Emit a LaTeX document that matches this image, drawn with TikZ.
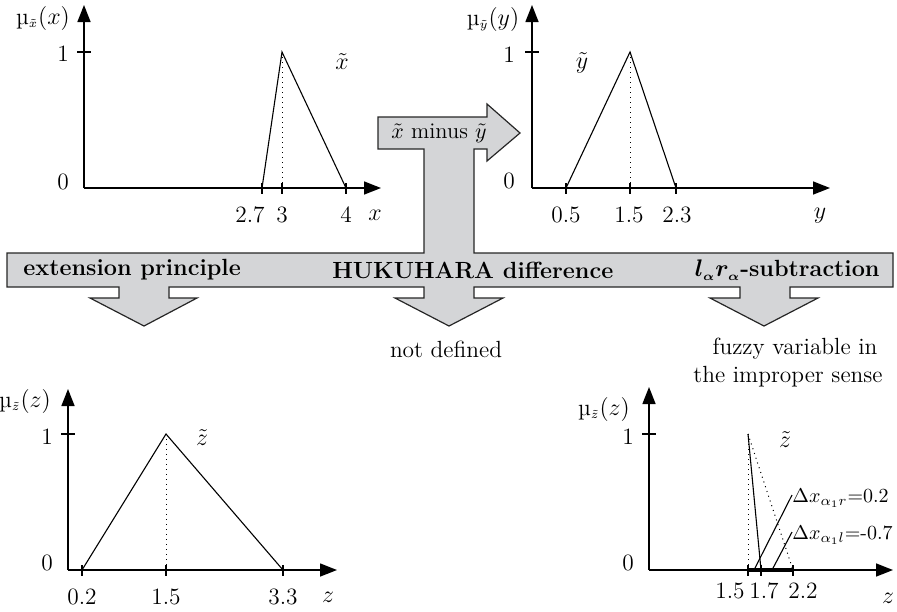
\documentclass[tikz,border=0pt]{standalone}
\usepackage{fontspec}
\usepackage{amsmath,bm}
\usetikzlibrary{arrows.meta}
\definecolor{bandgray}{RGB}{212,213,215}
\tikzset{
  axis/.style={line width=0.75pt,-{Triangle[length=8.5pt,width=6.5pt]}},
  tickmark/.style={line width=0.6pt},
  curve/.style={line width=0.55pt},
  dotline/.style={dotted,line width=0.5pt},
  lbl/.style={font=\fontsize{11.7}{14}\selectfont,inner sep=0pt},
  smalllbl/.style={font=\fontsize{10}{12}\selectfont,inner sep=0pt},
  band/.style={fill=bandgray,draw=black!85,line width=0.6pt,line join=miter}
}
\newcommand{\mulab}[2]{µ$_{\scriptscriptstyle\tilde{#1}}(#2)$}
\begin{document}
\begin{tikzpicture}[x=0.5pt,y=-0.5pt]
\useasboundingbox (0,0) rectangle (897,611);

% ---------- big grey arrow shape ----------
\draw[band] (378,117) -- (487,117) -- (487,104) -- (520,133) -- (487,161) -- (487,149)
  -- (474,149) -- (474,253) -- (893,253) -- (893,287)
  -- (790,287) -- (790,298) -- (818,298) -- (764,326) -- (710,298) -- (740,298) -- (740,287)
  -- (474,287) -- (474,298) -- (503,298) -- (449,326) -- (395,298) -- (424,298) -- (424,287)
  -- (169,287) -- (169,298) -- (197,298) -- (144,326) -- (90,298) -- (119,298) -- (119,287)
  -- (7,287) -- (7,253) -- (424,253) -- (424,149) -- (378,149) -- cycle;
\node[lbl,font=\fontsize{11.2}{14}\selectfont] (minus) at (439,133) {$\tilde{x}$ minus $\tilde{y}$};
\node[lbl,anchor=west] (ext) at (23,270) {\bfseries extension principle};
\node[lbl,anchor=west] (huk) at (332,270) {\bfseries HUKUHARA difference};
\node[lbl,anchor=east] (lr) at (880,270) {{\boldmath$l_{\scriptscriptstyle\alpha}r_{\scriptscriptstyle\alpha}$}\bfseries-subtraction};
\node[lbl] (nd) at (446,349) {not defined};
\node[lbl] (fv1) at (795,349) {fuzzy variable in};
\node[lbl] (fv2) at (788,377) {the improper sense};

% ---------- plot x (top left) ----------
\coordinate (ax0) at (84,188);
\coordinate (axt) at (84,5);
\coordinate (axr) at (381,188);
\draw[axis] (ax0) -- (axt);
\draw[axis] (ax0) -- (axr);
\coordinate (ax1a) at (77,52); \coordinate (ax1b) at (91,52);
\draw[tickmark] (ax1a) -- (ax1b);
\foreach \xx in {262,282,346} \draw[tickmark] (\xx,183) -- (\xx,194);
\coordinate (xa) at (262,188); \coordinate (xb) at (282,52); \coordinate (xc) at (346,188); \coordinate (xd) at (282,188);
\draw[curve] (xa) -- (xb) -- (xc);
\draw[dotline] (xb) -- (xd);
\node[lbl] (xmu) at (43,18) {\mulab{x}{x}};
\node[lbl] (x1) at (63,54) {1};
\node[lbl] (x0) at (63,182) {0};
\node[lbl] (xt1) at (250,215) {2.7};
\node[lbl] (xt2) at (282,215) {3};
\node[lbl] (xt3) at (346,215) {4};
\node[lbl] (xv) at (375,215) {$x$};
\node[lbl] (xtil) at (342,62) {$\tilde{x}$};

% ---------- plot y (top right) ----------
\coordinate (ay0) at (532,188);
\coordinate (ayt) at (532,5);
\coordinate (ayr) at (830,188);
\draw[axis] (ay0) -- (ayt);
\draw[axis] (ay0) -- (ayr);
\coordinate (ay1a) at (525,52); \coordinate (ay1b) at (539,52);
\draw[tickmark] (ay1a) -- (ay1b);
\foreach \xx in {566,630,676} \draw[tickmark] (\xx,183) -- (\xx,194);
\coordinate (ya) at (566,188); \coordinate (yb) at (630,52); \coordinate (yc) at (676,188); \coordinate (yd) at (630,188);
\draw[curve] (ya) -- (yb) -- (yc);
\draw[dotline] (yb) -- (yd);
\node[lbl] (ymu) at (493,19) {\mulab{y}{y}};
\node[lbl] (y1) at (509,55) {1};
\node[lbl] (y0) at (509,181) {0};
\node[lbl] (yt1) at (566,215) {0.5};
\node[lbl] (yt2) at (629,215) {1.5};
\node[lbl] (yt3) at (677,215) {2.3};
\node[lbl] (yv) at (820,216) {$y$};
\node[lbl] (ytil) at (582,63) {$\tilde{y}$};

% ---------- plot z (bottom left) ----------
\coordinate (az0) at (68,570);
\coordinate (azt) at (68,389);
\coordinate (azr) at (337,570);
\draw[axis] (az0) -- (azt);
\draw[axis] (az0) -- (azr);
\coordinate (az1a) at (61,434); \coordinate (az1b) at (75,434);
\draw[tickmark] (az1a) -- (az1b);
\foreach \xx in {82,166,283} \draw[tickmark] (\xx,565) -- (\xx,576);
\coordinate (za) at (82,570); \coordinate (zb) at (166,434); \coordinate (zc) at (283,570); \coordinate (zd) at (166,570);
\draw[curve] (za) -- (zb) -- (zc);
\draw[dotline] (zb) -- (zd);
\node[lbl] (zmu) at (25,401) {\mulab{z}{z}};
\node[lbl] (z1) at (47,437) {1};
\node[lbl] (z0) at (47,563) {0};
\node[lbl] (zt1) at (82,597) {0.2};
\node[lbl] (zt2) at (166,597) {1.5};
\node[lbl] (zt3) at (283,597) {3.3};
\node[lbl] (zv) at (328,597) {$z$};
\node[lbl] (ztil) at (202,438) {$\tilde{z}$};

% ---------- plot z improper (bottom right) ----------
\coordinate (aw0) at (649,570);
\coordinate (awt) at (649,387);
\coordinate (awr) at (893,570);
\draw[axis] (aw0) -- (awt);
\draw[axis] (aw0) -- (awr);
\coordinate (aw1a) at (642,434); \coordinate (aw1b) at (656,434);
\draw[tickmark] (aw1a) -- (aw1b);
\coordinate (wa) at (748,570); \coordinate (wb) at (748,434); \coordinate (wc) at (761,570); \coordinate (wd) at (793,570);
\draw[line width=1.6pt] (wa) -- (wd);
\foreach \xx in {748,761,793} \draw[tickmark] (\xx,565) -- (\xx,576);
\draw[curve] (wb) -- (wc);
\draw[dotline] (wb) -- (wd);
\draw[dotline] (wb) -- (wa);
\coordinate (wl1a) at (754,570); \coordinate (wl1b) at (792,495);
\coordinate (wl2a) at (772,570); \coordinate (wl2b) at (792,532);
\draw[curve] (wl1a) -- (wl1b);
\draw[curve] (wl2a) -- (wl2b);
\node[smalllbl,anchor=west] (dr) at (792,498) {$\Delta x_{\alpha_1 r}$=0.2};
\node[smalllbl,anchor=west] (dl) at (792,535) {$\Delta x_{\alpha_1 l}$=-0.7};
\node[lbl] (wmu) at (604,409) {\mulab{z}{z}};
\node[lbl] (w1) at (628,437) {1};
\node[lbl] (w0) at (628,563) {0};
\node[lbl] (wt1) at (730,591) {1.5};
\node[lbl] (wt2) at (764,591) {1.7};
\node[lbl] (wt3) at (803,591) {2.2};
\node[lbl] (wv) at (888,598) {$z$};
\node[lbl] (wtil) at (785,440) {$\tilde{z}$};
\end{tikzpicture}
\end{document}
